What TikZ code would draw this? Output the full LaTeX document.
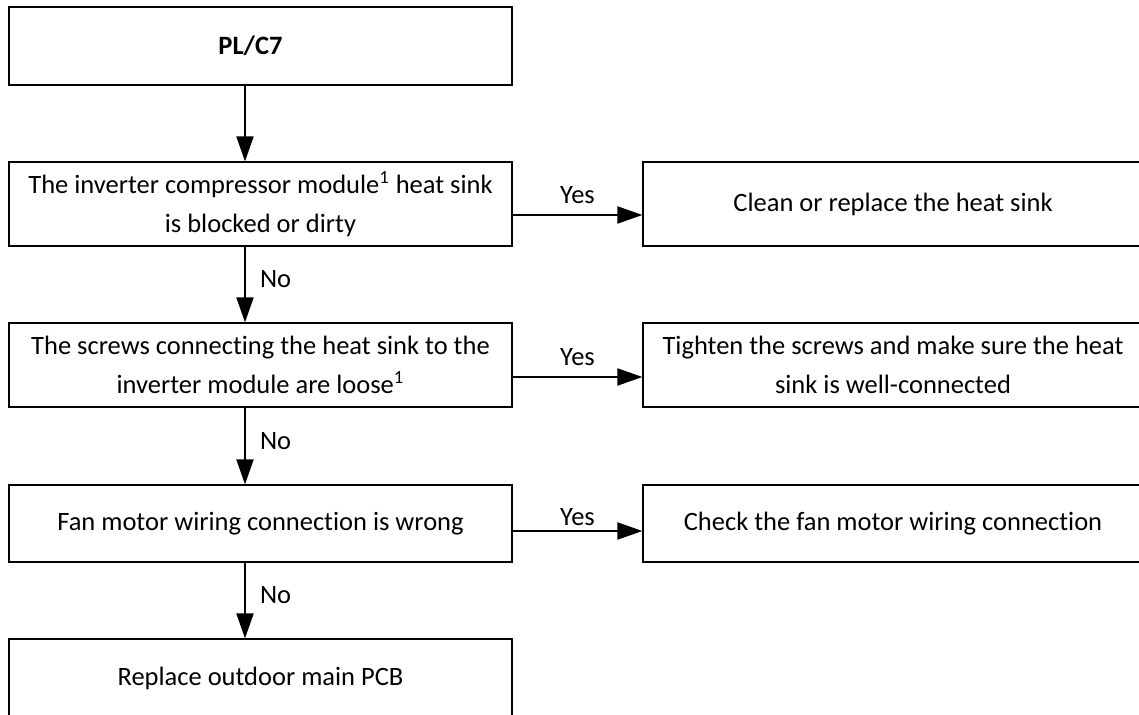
\documentclass[tikz,border=0pt]{standalone}
\usepackage{fontspec}
\setmainfont{Carlito}[Ligatures=NoCommon]
\usetikzlibrary{arrows.meta}
\begin{document}
\begin{tikzpicture}[x=0.5pt,y=-0.5pt,
  txt/.style={font=\fontsize{13.25pt}{19.5pt}\selectfont},
  box/.style={txt, draw=black, line width=0.6pt, inner sep=0pt, align=center},
  lbox/.style={box, minimum width=251.5pt},
  rbox/.style={box, minimum width=250pt},
  flow/.style={line width=1pt, -{Triangle[length=12.5pt,width=8.5pt]}},
  lab/.style={txt, inner sep=0pt}
]
\useasboundingbox (0,0) rectangle (1139,715);
\clip (0,0) rectangle (1139,715);
\fill[white] (0,0) rectangle (1139,715);
% left column
\node[lbox, minimum height=39pt, line width=0.8pt] (b1) at (260.5,46) {\textbf{PL/C7}\hspace{10pt}};
\node[lbox, minimum height=42pt] (b2) at (260.5,204) {The inverter compressor module\textsuperscript{1} heat sink\\is blocked or dirty};
\node[lbox, minimum height=42pt] (b3) at (260.5,365) {The screws connecting the heat sink to the\\inverter module are loose\textsuperscript{1}};
\node[lbox, minimum height=38.5pt] (b4) at (260.5,523.5) {Fan motor wiring connection is wrong};
\node[lbox, minimum height=39pt] (b5) at (260.5,678) {Replace outdoor main PCB};
% right column
\node[rbox, minimum height=42pt] (r1) at (893,204) {Clean or replace the heat sink};
\node[rbox, minimum height=42pt] (r2) at (893,365) {Tighten the screws and make sure the heat\\sink is well-connected};
\node[rbox, minimum height=38.5pt] (r3) at (893,523.5) {Check the fan motor wiring connection};
% connectors
\coordinate (ax) at (245,0);
\draw[flow] (b1.south -| ax) -- (b2.north -| ax);
\draw[flow] (b2.south -| ax) -- node[lab, anchor=west, xshift=7pt, yshift=2.5pt] (n1) {No} (b3.north -| ax);
\draw[flow] (b3.south -| ax) -- node[lab, anchor=west, xshift=7pt, yshift=2.5pt] (n2) {No} (b4.north -| ax);
\draw[flow] (b4.south -| ax) -- node[lab, anchor=west, xshift=7pt, yshift=2.5pt] (n3) {No} (b5.north -| ax);
\draw[flow] ([yshift=-5.5pt]b2.east) -- node[lab, yshift=10pt] (y1) {Yes} ([yshift=-5.5pt]r1.west);
\draw[flow] ([yshift=-6pt]b3.east) -- node[lab, yshift=10pt] (y2) {Yes} ([yshift=-6pt]r2.west);
\draw[flow] ([yshift=-3.75pt]b4.east) -- node[lab, yshift=7pt] (y3) {Yes} ([yshift=-3.75pt]r3.west);
\end{tikzpicture}
\end{document}
